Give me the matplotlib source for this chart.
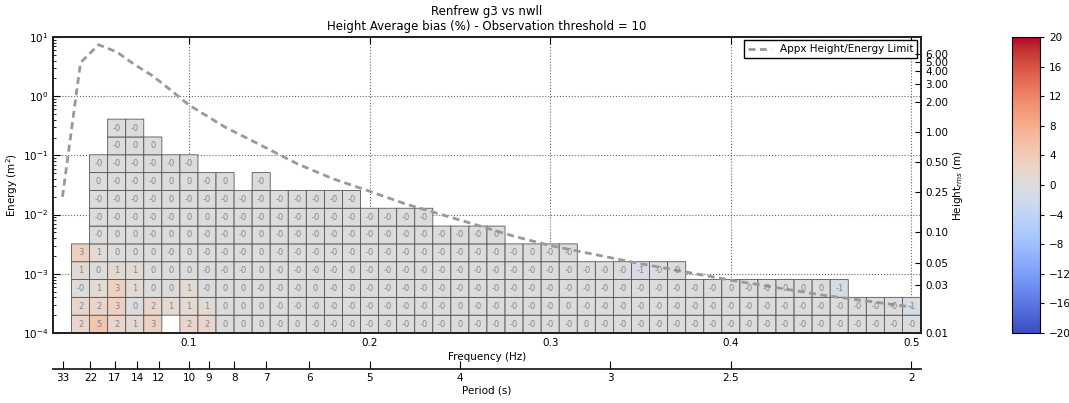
import numpy as np
import matplotlib.pyplot as plt

plt.rcParams['font.family'] = ['DejaVu Sans']
plt.rcParams['font.size'] = 7.5

title = 'Renfrew g3 vs nwll\nHeight Average bias (%) - Observation threshold = 10'

# frequency bin centres (Hz), one column of cells each
freq = np.round(np.arange(0.04, 0.501, 0.01), 2)
# energy bin edges (m^2), each bin twice the one below
energy_edges = 1e-4 * 2.0 ** np.arange(13)

# bias (%) per frequency column, lowest energy bin first (None = empty cell)
bias = [
    [2, 2, -0.0, 1, 3],
    [5, 2, 1, 0, 1, -0.0, -0.0, -0.0, 0, -0.0],
    [2, 3, 3, 1, 0, 0, -0.0, -0.0, -0.0, -0.0, -0.0, -0.0],
    [1, 0, 1, 1, 0, 0, -0.0, -0.0, -0.0, -0.0, 0, -0.0],
    [3, 2, 0, 0, 0, -0.0, -0.0, -0.0, -0.0, -0.0, 0],
    [None, 1, 0, 0, -0.0, 0, -0.0, 0, 0, -0.0],
    [2, 1, 1, 0, 0, 0, 0, -0.0, 0, -0.0],
    [2, 1, -0.0, -0.0, -0.0, -0.0, 0, -0.0, -0.0],
    [0, 0, 0, -0.0, -0.0, -0.0, -0.0, -0.0, 0],
    [0, 0, 0, -0.0, -0.0, -0.0, -0.0, -0.0],
    [0, 0, -0.0, 0, 0, 0, -0.0, -0.0, -0.0],
    [-0.0, -0.0, -0.0, -0.0, -0.0, -0.0, -0.0, -0.0],
    [0, -0.0, -0.0, -0.0, -0.0, -0.0, -0.0, -0.0],
    [-0.0, -0.0, 0, -0.0, -0.0, -0.0, -0.0, -0.0],
    [-0.0, -0.0, -0.0, -0.0, -0.0, -0.0, -0.0, -0.0],
    [-0.0, -0.0, -0.0, -0.0, -0.0, -0.0, -0.0, -0.0],
    [-0.0, -0.0, -0.0, -0.0, -0.0, -0.0, -0.0],
    [-0.0, -0.0, -0.0, -0.0, -0.0, -0.0, -0.0],
    [-0.0, -0.0, -0.0, -0.0, -0.0, -0.0, -0.0],
    [-0.0, -0.0, -0.0, -0.0, -0.0, -0.0, -0.0],
    [-0.0, -0.0, -0.0, -0.0, -0.0, -0.0],
    [0, 0, -0.0, -0.0, -0.0, -0.0],
    [-0.0, -0.0, -0.0, -0.0, -0.0, -0.0],
    [-0.0, -0.0, -0.0, -0.0, -0.0, 0],
    [-0.0, -0.0, -0.0, -0.0, -0.0],
    [-0.0, -0.0, -0.0, -0.0, 0],
    [-0.0, -0.0, -0.0, -0.0, -0.0],
    [-0.0, 0, -0.0, -0.0, -0.0],
    [0, -0.0, -0.0, -0.0],
    [-0.0, -0.0, -0.0, -0.0],
    [-0.0, -0.0, -0.0, -0.0],
    [-0.0, -0.0, -0.0, -1],
    [-0.0, -0.0, -0.0, -0.0],
    [-0.0, -0.0, -0.0, -0.0],
    [-0.0, -0.0, -0.0],
    [-0.0, -0.0, -0.0],
    [-0.0, -0.0, 0],
    [-0.0, -0.0, -0.0],
    [-0.0, -0.0, -0.0],
    [-0.0, -0.0, -0.0],
    [-0.0, -0.0, 0],
    [-0.0, -0.0, 0],
    [-0.0, -0.0, -1],
    [-0.0, -0.0],
    [-0.0, -0.0],
    [-0.0, -0.0],
    [-0.0, -1],
]

# approximate height/energy limit
limit_freq = [0.03, 0.04, 0.05, 0.06, 0.07, 0.08, 0.09, 0.10, 0.12, 0.14, 0.16,
              0.18, 0.20, 0.22, 0.25, 0.28, 0.30, 0.35, 0.40, 0.45, 0.50]
limit_energy = [0.02, 3.7, 7.4, 5.6, 3.4, 2.2, 1.26, 0.71, 0.30, 0.148, 0.072,
                0.040, 0.0248, 0.0151, 0.0081, 0.0043, 0.0030, 0.00148,
                7.8e-4, 4.4e-4, 2.75e-4]

height_ticks = [0.01, 0.03, 0.05, 0.10, 0.25, 0.50, 1.00, 2.00, 3.00, 4.00, 5.00, 6.00]
period_ticks = [33, 22, 17, 14, 12, 10, 9, 8, 7, 6, 5, 4, 3, 2.5, 2]
freq_ticks = [0.1, 0.2, 0.3, 0.4, 0.5]
cbar_ticks = np.arange(-20, 21, 4)

# build the cell grid (rows = energy bins, cols = frequency bins)
grid = np.full((len(energy_edges) - 1, len(freq)), np.nan)
for j, col in enumerate(bias):
    for i, v in enumerate(col):
        if v is not None:
            grid[i, j] = v
grid = np.ma.masked_invalid(grid)
freq_edges = np.append(freq - 0.005, freq[-1] + 0.005)

fig = plt.figure(figsize=(10.69, 4.03), dpi=100)
ax = fig.add_axes([0.050, 0.1737, 0.8111, 0.7345])
ax.set_axisbelow(True)

mesh = ax.pcolor(freq_edges, energy_edges, grid, cmap='coolwarm', vmin=-20, vmax=20,
                 edgecolors='#555555', linewidth=0.6)
for j, col in enumerate(bias):
    for i, v in enumerate(col):
        if v is None:
            continue
        ax.text(freq[j], np.sqrt(energy_edges[i] * energy_edges[i + 1]), f'{v:.0f}',
                ha='center', va='center', fontsize=6, color='#858585')

ax.plot(limit_freq, limit_energy, '--', color='#999999', lw=2, dashes=(2.5, 1.6),
        label='Appx Height/Energy Limit')

ax.set_yscale('log')
ax.set_ylim(1e-4, 10)
ax.set_xlim(0.025, 0.505)
ax.set_xticks(freq_ticks)
ax.set_xticklabels([f'{t:g}' for t in freq_ticks])
ax.set_xlabel('Frequency (Hz)', labelpad=3)
ax.set_ylabel('Energy (m$^2$)', labelpad=2)
ax.grid(True, which='major', linestyle=':', color='#666666', linewidth=0.8)
ax.tick_params(which='both', direction='in', top=True, right=False)
ax.tick_params(which='major', length=5)
ax.tick_params(which='minor', length=2.5)
for s in ax.spines.values():
    s.set_linewidth(1.3)
    s.set_color('#222222')
ax.set_title(title, fontsize=8.5, pad=5)
leg = ax.legend(loc='upper right', fontsize=7.5, fancybox=False, framealpha=1,
                edgecolor='black', borderaxespad=0.3, handlelength=2.2)
leg.get_frame().set_linewidth(1.0)

# right hand height axis
ax2 = ax.twinx()
ax2.set_yscale('log')
ax2.set_ylim(0.01, 8.8)
ax2.set_yticks(height_ticks)
ax2.set_yticklabels([f'{h:.2f}' for h in height_ticks])
ax2.yaxis.set_minor_locator(plt.NullLocator())
ax2.tick_params(direction='in', length=4)
ax2.set_ylabel('Height$_{rms}$ (m)', labelpad=2)
for s in ax2.spines.values():
    s.set_linewidth(1.3)
    s.set_color('#222222')

# period axis underneath
pax = fig.add_axes([0.050, 0.0844, 0.8111, 0.0001])
pax.set_xlim(ax.get_xlim())
pax.set_xticks([1.0 / p for p in period_ticks])
pax.set_xticklabels([f'{p:g}' for p in period_ticks])
pax.set_yticks([])
for side in ['left', 'right', 'top']:
    pax.spines[side].set_visible(False)
pax.spines['bottom'].set_linewidth(1.3)
pax.spines['bottom'].set_color('#222222')
pax.tick_params(axis='x', direction='in', length=6, pad=3)
pax.set_xlabel('Period (s)', labelpad=2)
pax.patch.set_visible(False)

# colour bar
cax = fig.add_axes([0.9467, 0.1737, 0.0262, 0.7345])
cb = fig.colorbar(mesh, cax=cax, ticks=cbar_ticks)
cb.ax.tick_params(labelsize=7.5, length=3)
cb.outline.set_linewidth(0.8)

fig.savefig('out.png', dpi=100)
